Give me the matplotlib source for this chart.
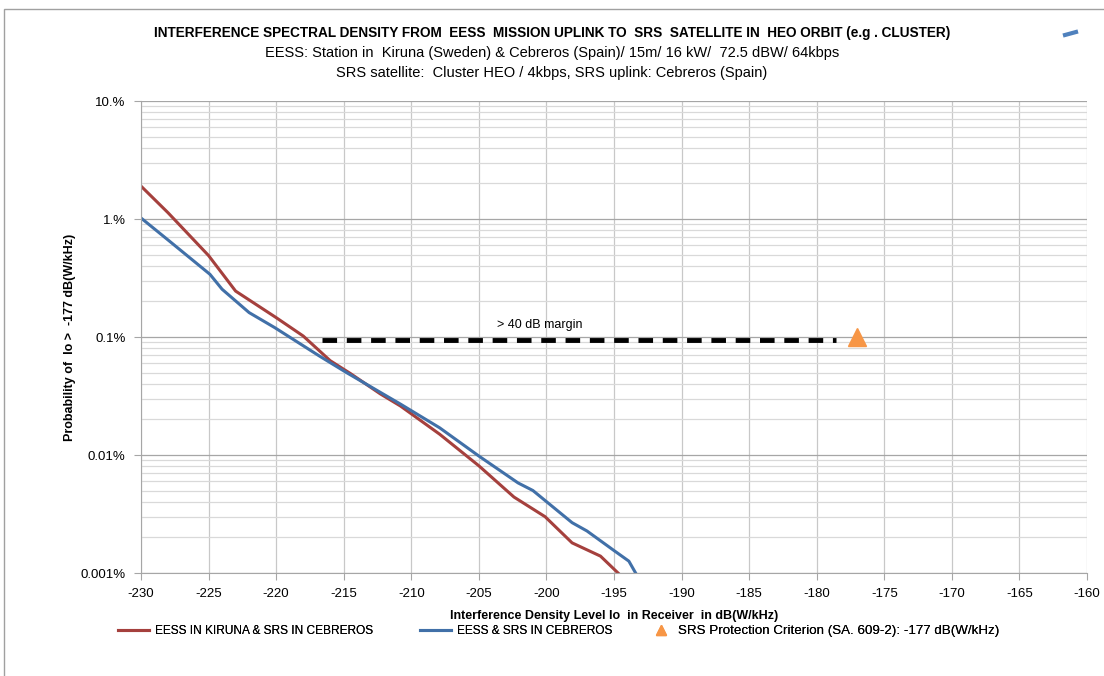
import matplotlib
matplotlib.use("Agg")
import matplotlib.pyplot as plt
from matplotlib.ticker import FixedLocator, LogLocator, NullFormatter
from matplotlib.lines import Line2D
from matplotlib.patches import Rectangle

plt.rcParams['font.family'] = ['Liberation Sans', 'DejaVu Sans']

# EESS in Kiruna & SRS in Cebreros (percent)
kiruna_x = [-230, -228, -225, -223, -220, -218, -216, -214.5, -212.3, -210.8,
            -207.9, -205, -202.4, -200.1, -198.1, -196, -194.7]
kiruna_y = [1.9, 1.13, 0.49, 0.245, 0.146, 0.102, 0.063, 0.049, 0.033, 0.026,
            0.015, 0.0081, 0.0044, 0.0030, 0.0018, 0.00139, 0.001]

# EESS & SRS in Cebreros (percent)
cebreros_x = [-230, -227.9, -224.9, -224, -222, -220.1, -216.8, -214.8, -212.3,
              -210.8, -207.9, -205, -202.1, -201, -198.1, -197, -195, -193.9, -193.4]
cebreros_y = [1.02, 0.65, 0.34, 0.254, 0.161, 0.12, 0.069, 0.050, 0.034,
              0.027, 0.017, 0.0098, 0.0058, 0.005, 0.00267, 0.00227, 0.00155, 0.00126, 0.001]

margin_x = [-216.6, -178.6]
margin_y = [0.095, 0.095]
criterion_x = [-177]
criterion_y = [0.1]

yticks = [0.001, 0.01, 0.1, 1, 10]
ytick_labels = ['0.001%', '0.01%', '0.1%', '1.%', '10.%']
xticks = list(range(-230, -159, 5))

fig = plt.figure(figsize=(11.04, 6.76), dpi=100)
ax = fig.add_axes([141/1104, 1-573/676, (1087-141)/1104, (573-101)/676])

ax.set_yscale('log')
ax.set_xlim(-230, -160)
ax.set_ylim(0.001, 10)

ax.yaxis.set_major_locator(FixedLocator(yticks))
ax.set_yticklabels(ytick_labels, fontsize=9.5)
ax.yaxis.set_minor_locator(LogLocator(base=10, subs=range(2, 10)))
ax.yaxis.set_minor_formatter(NullFormatter())
ax.set_xticks(xticks)
ax.set_xticklabels([str(t) for t in xticks], fontsize=9.5)

ax.grid(True, which='major', axis='y', color='#a6a6a6', lw=0.9)
ax.grid(True, which='minor', axis='y', color='#d9d9d9', lw=0.9)
ax.grid(True, which='major', axis='x', color='#c8c8c8', lw=0.9)
ax.set_axisbelow(True)

for s in ['top', 'right']:
    ax.spines[s].set_visible(False)
for s in ['left', 'bottom']:
    ax.spines[s].set_color('#a6a6a6')
ax.tick_params(which='major', length=5, color='#a6a6a6', pad=6)
ax.tick_params(which='minor', length=0)

l1, = ax.plot(kiruna_x, kiruna_y, color='#a5403d', lw=2.2, label='EESS IN KIRUNA & SRS IN CEBREROS')
l2, = ax.plot(cebreros_x, cebreros_y, color='#4170a8', lw=2.2, label='EESS & SRS IN CEBREROS')
ax.plot(margin_x, margin_y, color='black', lw=3.5, ls=(0, (3, 2)))
ax.text(-200.5, 0.112, '> 40 dB margin', fontsize=9, ha='center', va='bottom')
ax.plot(criterion_x, criterion_y, ls='none', marker='^', ms=13, color='#f79646')
l3 = Line2D([], [], ls='none', marker='^', ms=7, color='#f79646',
            label='SRS Protection Criterion (SA. 609-2): -177 dB(W/kHz)')

ax.set_xlabel('Interference Density Level Io  in Receiver  in dB(W/kHz)', fontsize=9,
              fontweight='bold')
ax.xaxis.set_label_coords(0.5, -(616-573)/472, transform=ax.transAxes)
ax.xaxis.label.set_va('center')
ax.set_ylabel('Probability of  Io >  -177 dB(W/kHz)', fontsize=9, fontweight='bold')
ax.yaxis.set_label_coords(-(141-70)/946, 0.5, transform=ax.transAxes)
ax.yaxis.label.set_va('center')

fig.text(0.5, 1-33/676, 'INTERFERENCE SPECTRAL DENSITY FROM  EESS  MISSION UPLINK TO  SRS  SATELLITE IN  HEO ORBIT (e.g . CLUSTER)',
         ha='center', va='center', fontsize=9.8, fontweight='bold')
fig.text(0.5, 1-53/676, 'EESS: Station in  Kiruna (Sweden) & Cebreros (Spain)/ 15m/ 16 kW/  72.5 dBW/ 64kbps',
         ha='center', va='center', fontsize=10.5)
fig.text(0.5, 1-73/676, 'SRS satellite:  Cluster HEO / 4kbps, SRS uplink: Cebreros (Spain)',
         ha='center', va='center', fontsize=10.5)

# stray legend mark top right
fig.add_artist(Line2D([1065/1104, 1076/1104], [1-35/676, 1-32/676], color='#4f81bd', lw=3))

# legend entries placed like the original
for handle, x0, hl, fs in [(l1, 118, 2.6, 8.6), (l2, 420, 2.6, 8.6), (l3, 650, 1.6, 9.6)]:
    leg = fig.legend(handles=[handle], loc='center left', bbox_to_anchor=(x0/1104, 1-631/676),
                     frameon=False, fontsize=fs, handlelength=hl, handletextpad=0.5,
                     borderpad=0, borderaxespad=0)
    fig.add_artist(leg)

fig.add_artist(Rectangle((4/1104, -0.01), 1.1, 1-9/676 + 0.01, transform=fig.transFigure,
                         fill=False, edgecolor='#a0a0a0', lw=1))

fig.savefig('out.png', dpi=100)
